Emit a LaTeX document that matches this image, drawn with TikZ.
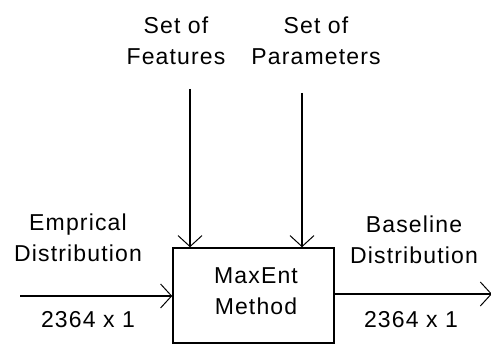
\documentclass[tikz,border=0pt]{standalone}
\usepackage{fontspec}
\setmainfont{Liberation Sans}[LetterSpace=5]
\usetikzlibrary{arrows.meta}
\begin{document}
\begin{tikzpicture}[x=1pt,y=-1pt,
  lbl/.style={font=\fontsize{23}{31}\selectfont, align=center, inner sep=0pt},
  flow/.style={line width=1.3pt, -{Straight Barb[length=11pt,width=24pt,line width=1pt]}},
  blockbox/.style={draw, line width=1.5pt, minimum width=161pt, minimum height=95pt, inner sep=0pt}]
  \useasboundingbox (0,0) rectangle (491,344);
  \fill[white] (0,0) rectangle (491,344);

  % central processing block
  \node[blockbox] (box) at (253.5,295.5) {};
  \node[lbl] (method) at (256,291) {MaxEnt\\Method};

  % top inputs
  \node[lbl] (feat) at (176,41) {Set of\\Features};
  \node[lbl] (par) at (316,41) {Set of\\Parameters};
  \coordinate (featstart) at (190,89);
  \coordinate (parstart) at (302,93);
  \draw[flow] (featstart) -- (featstart |- box.north);
  \draw[flow] (parstart) -- (parstart |- box.north);

  % left input
  \node[lbl] (emp) at (78,238) {Emprical\\Distribution};
  \node[lbl] (empdim) at (88,320) {2364 x 1};
  \coordinate (empstart) at (20,296);
  \draw[flow] (empstart) -- (empstart -| box.west);

  % right output
  \node[lbl] (base) at (414,240) {Baseline\\Distribution};
  \node[lbl] (basedim) at (411,320) {2364 x 1};
  \coordinate (baseend) at (492,294);
  \draw[flow] (baseend -| box.east) -- (baseend);
\end{tikzpicture}
\end{document}
